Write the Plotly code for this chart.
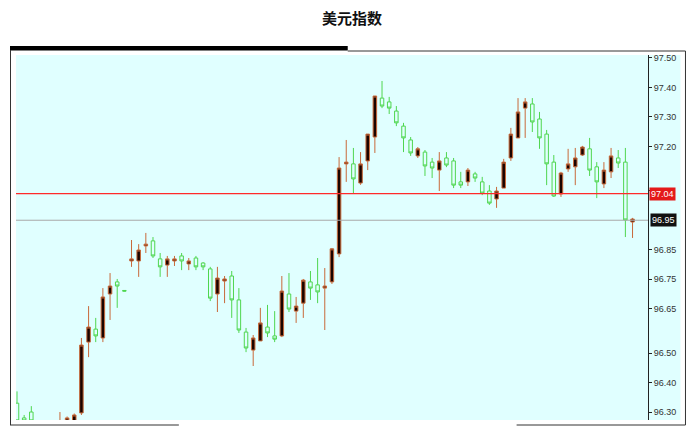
import plotly.graph_objects as go

# 美元指数 candles (oldest first)
opens = [96.33, 96.28, 96.30, 96.22, 96.20, 96.22, 96.26, 96.27, 96.27, 96.297,
         96.537, 96.581, 96.551, 96.700, 96.741, 96.712, 96.812, 96.812, 96.863, 96.880,
         96.819, 96.798, 96.812, 96.829, 96.802, 96.822, 96.805, 96.785, 96.700, 96.744,
         96.761, 96.680, 96.571, 96.510, 96.541, 96.588, 96.558, 96.558, 96.700, 96.642,
         96.669, 96.741, 96.731, 96.720, 96.741, 96.836, 97.141, 97.141, 97.076, 97.151,
         97.232, 97.364, 97.351, 97.320, 97.269, 97.222, 97.168, 97.181, 97.147, 97.120,
         97.161, 97.151, 97.080, 97.080, 97.107, 97.080, 97.049, 97.022, 97.059, 97.161,
         97.229, 97.330, 97.344, 97.293, 97.242, 97.147, 97.039, 97.124, 97.131, 97.171,
         97.192, 97.131, 97.073, 97.114, 97.161, 97.147, 96.944]
highs = [96.37, 96.29, 96.32, 96.25, 96.24, 96.26, 96.30, 96.285, 96.295, 96.551,
         96.659, 96.619, 96.720, 96.771, 96.751, 96.713, 96.883, 96.869, 96.907, 96.893,
         96.839, 96.829, 96.829, 96.839, 96.822, 96.829, 96.808, 96.792, 96.792, 96.761,
         96.778, 96.720, 96.585, 96.561, 96.653, 96.663, 96.642, 96.761, 96.771, 96.690,
         96.751, 96.778, 96.822, 96.788, 96.856, 97.164, 97.222, 97.195, 97.181, 97.242,
         97.371, 97.422, 97.368, 97.337, 97.280, 97.232, 97.198, 97.188, 97.161, 97.181,
         97.181, 97.161, 97.114, 97.127, 97.114, 97.097, 97.069, 97.063, 97.158, 97.263,
         97.364, 97.364, 97.364, 97.317, 97.256, 97.171, 97.114, 97.192, 97.195, 97.202,
         97.229, 97.147, 97.147, 97.195, 97.188, 97.195, 96.958]
lows = [96.25, 96.25, 96.25, 96.18, 96.17, 96.20, 96.24, 96.25, 96.26, 96.29,
        96.486, 96.537, 96.537, 96.612, 96.653, 96.709, 96.792, 96.758, 96.839, 96.822,
        96.758, 96.758, 96.795, 96.781, 96.781, 96.781, 96.781, 96.676, 96.639, 96.669,
        96.619, 96.568, 96.503, 96.456, 96.541, 96.554, 96.537, 96.554, 96.639, 96.602,
        96.619, 96.680, 96.669, 96.578, 96.734, 96.825, 97.080, 97.042, 97.070, 97.120,
        97.178, 97.330, 97.310, 97.269, 97.181, 97.168, 97.161, 97.100, 97.093, 97.049,
        97.130, 97.059, 97.059, 97.066, 97.080, 97.035, 97.002, 96.992, 97.059, 97.151,
        97.229, 97.229, 97.249, 97.192, 97.069, 97.029, 97.029, 97.114, 97.069, 97.168,
        97.100, 97.025, 97.059, 97.093, 97.127, 96.893, 96.890]
closes = [96.27, 96.27, 96.27, 96.20, 96.22, 96.25, 96.27, 96.28, 96.29, 96.527,
          96.588, 96.558, 96.690, 96.727, 96.727, 96.710, 96.819, 96.849, 96.869, 96.829,
          96.792, 96.819, 96.819, 96.812, 96.812, 96.792, 96.792, 96.686, 96.754, 96.751,
          96.680, 96.578, 96.517, 96.551, 96.602, 96.568, 96.547, 96.710, 96.649, 96.659,
          96.747, 96.720, 96.707, 96.727, 96.853, 97.127, 97.147, 97.090, 97.141, 97.242,
          97.371, 97.337, 97.330, 97.280, 97.229, 97.178, 97.192, 97.134, 97.127, 97.151,
          97.137, 97.069, 97.069, 97.120, 97.093, 97.042, 97.008, 97.049, 97.147, 97.242,
          97.317, 97.351, 97.283, 97.229, 97.141, 97.032, 97.110, 97.141, 97.161, 97.198,
          97.120, 97.080, 97.120, 97.168, 97.144, 96.951, 96.954]

tick_vals = [97.50, 97.40, 97.30, 97.20, 97.05, 96.85, 96.75, 96.65, 96.50, 96.40, 96.30]
ref_price = 97.04
last_price = 96.95

bars = list(range(len(opens)))

# the page puts the figure 8px in from the top-left corner, so work in page pixels
OFF = 8
W, H = 696 - OFF, 435 - OFF
L, R, T, B = 16, 648.5, 55, 420  # plot area, page pixels


def px(x):
    return (x - L) / (R - L)


def py(y):
    return (B - y) / (B - T)


fig = go.Figure()
fig.add_trace(go.Candlestick(
    x=bars, open=opens, high=highs, low=lows, close=closes,
    increasing=dict(line=dict(color="#c8693a", width=1), fillcolor="#1a0400"),
    decreasing=dict(line=dict(color="#4fd64f", width=1), fillcolor="#e0ffff"),
    hoverinfo="skip",
))

frame = dict(color="#333", width=1)
shapes = [
    # cyan strip behind price labels
    dict(type="rect", xref="paper", yref="paper", x0=1, x1=px(681), y0=0, y1=1,
         fillcolor="#e0ffff", line_width=0, layer="below"),
    # reference lines
    dict(type="line", xref="paper", yref="y", x0=0, x1=1, y0=ref_price, y1=ref_price,
         line=dict(color="#ff2a2a", width=1.3)),
    dict(type="line", xref="paper", yref="y", x0=0, x1=1, y0=last_price, y1=last_price,
         line=dict(color="#a8a8a8", width=1)),
    # frame
    dict(type="rect", xref="paper", yref="paper", x0=px(10), x1=px(348), y0=py(46), y1=py(50.5),
         fillcolor="black", line_width=0),
    dict(type="line", xref="paper", yref="paper", x0=px(348), x1=px(686), y0=py(51), y1=py(51),
         line=frame),
    dict(type="line", xref="paper", yref="paper", x0=px(10.5), x1=px(10.5), y0=py(50), y1=py(425),
         line=frame),
    dict(type="line", xref="paper", yref="paper", x0=px(686), x1=px(686), y0=py(51), y1=py(425),
         line=frame),
    dict(type="line", xref="paper", yref="paper", x0=px(10), x1=px(179), y0=py(425), y1=py(425),
         line=frame),
    dict(type="line", xref="paper", yref="paper", x0=px(517), x1=px(686), y0=py(425), y1=py(425),
         line=frame),
]

label_font = dict(family="Liberation Sans, Arial", size=9, color="white")
annotations = [
    dict(x=1, xref="paper", y=ref_price, yref="y", text=f"{ref_price:.2f}", showarrow=False,
         xanchor="left", xshift=1, bgcolor="#e41a1a", borderpad=1, font=label_font),
    dict(x=1, xref="paper", y=last_price, yref="y", text=f"{last_price:.2f}", showarrow=False,
         xanchor="left", xshift=2, bgcolor="#111111", borderpad=1, font=label_font),
]

# 97.05 sits under the red price tag in the reference
tick_text = ["" if v == 97.05 else f"{v:.2f}" for v in tick_vals]

fig.update_layout(
    width=W, height=H,
    margin=dict(l=L - OFF, r=W - (R - OFF), t=T - OFF, b=H - (B - OFF), pad=0),
    paper_bgcolor="white", plot_bgcolor="#e0ffff",
    showlegend=False,
    title=dict(text="<b>美元指数</b>", x=0.5, xanchor="center", y=1 - (19 - OFF) / H,
               yanchor="middle", font=dict(family="Noto Sans CJK SC", size=15, color="#111")),
    xaxis=dict(range=[-0.14, 88.16], visible=False, rangeslider=dict(visible=False),
               showgrid=False),
    yaxis=dict(range=[96.273, 97.510], side="right", showgrid=False, zeroline=False,
               showline=True, linecolor="#222", linewidth=1,
               tickmode="array", tickvals=tick_vals, ticktext=tick_text,
               ticks="outside", ticklen=3, tickcolor="#222",
               tickfont=dict(family="Liberation Sans, Arial", size=9, color="#333")),
    shapes=shapes,
    annotations=annotations,
)

fig.write_html("out.html")
